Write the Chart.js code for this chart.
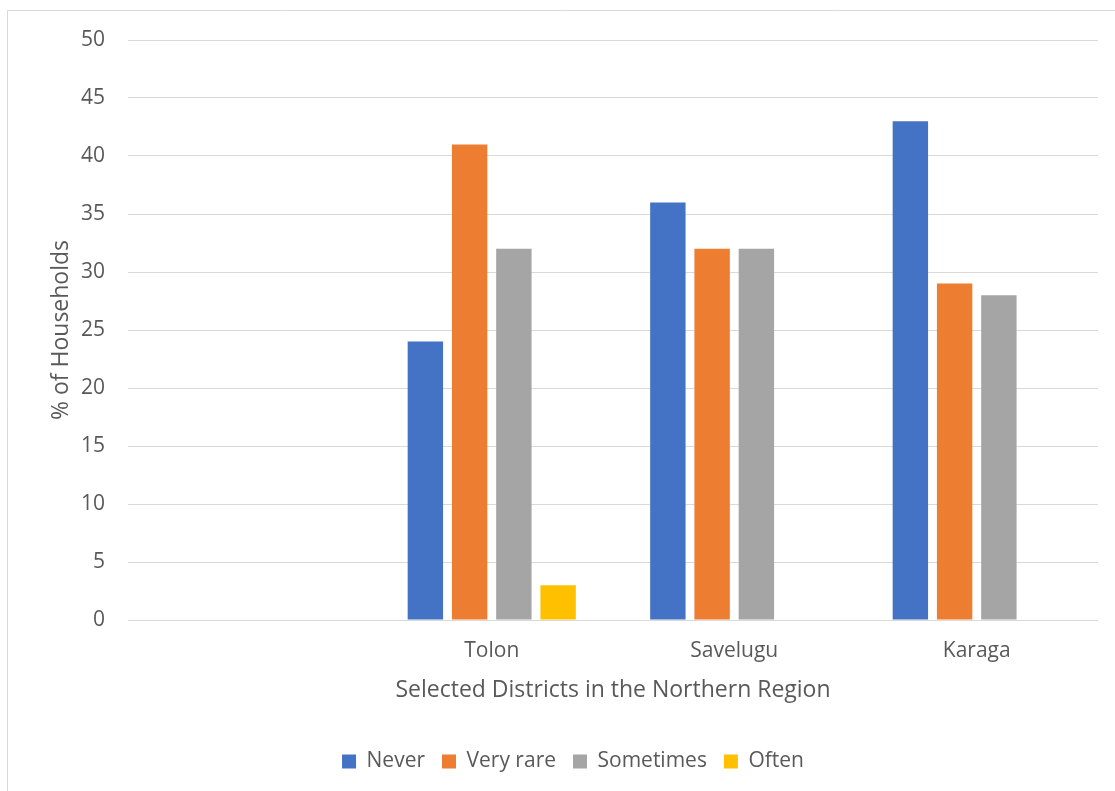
<!DOCTYPE html>
<html>
<head>
<meta charset="utf-8">
<script src="https://cdn.jsdelivr.net/npm/chart.js@4/dist/chart.umd.min.js"></script>
<style>
  html, body { margin: 0; padding: 0; background: #fff; }
  #wrap { position: relative; width: 1115px; height: 791px; }
</style>
</head>
<body>
<div id="wrap"><canvas id="c" width="1115" height="791"></canvas></div>
<script>
const categories = ['', 'Tolon', 'Savelugu', 'Karaga'];
const seriesNames = ['Never', 'Very rare', 'Sometimes', 'Often'];
const never = [null, 24, 36, 43];
const veryRare = [null, 41, 32, 29];
const sometimes = [null, 32, 32, 28];
const often = [null, 3, 0, 0];
const colors = ['#4472C4', '#ED7D31', '#A5A5A5', '#FFC000'];
const yTitle = '% of Households';
const xTitle = 'Selected Districts in the Northern Region';

const FONT = "'Open Sans', sans-serif";
const TXT = '#595959';

const borderPlugin = {
  id: 'outerBorder',
  afterLayout(chart) {
    if (chart.legend) {
      chart.legend.left += 24;
      chart.legend.right += 24;
    }
  },
  beforeDraw(chart) {
    const ctx = chart.ctx;
    ctx.save();
    ctx.strokeStyle = '#d9d9d9';
    ctx.lineWidth = 1;
    ctx.beginPath();
    ctx.moveTo(7.5, 800);
    ctx.lineTo(7.5, 10.5);
    ctx.lineTo(1120, 10.5);
    ctx.stroke();
    ctx.restore();
  }
};

const seriesData = [never, veryRare, sometimes, often];

new Chart(document.getElementById('c'), {
  type: 'bar',
  data: {
    labels: categories,
    datasets: seriesNames.map((n, i) => ({
      label: n,
      data: seriesData[i],
      backgroundColor: colors[i],
      borderWidth: 0,
      categoryPercentage: 0.73,
      barPercentage: 0.8
    }))
  },
  options: {
    responsive: false,
    animation: false,
    devicePixelRatio: 1,
    layout: { padding: { top: 40, left: 0, right: 17, bottom: 9 } },
    plugins: {
      legend: {
        position: 'bottom',
        labels: {
          color: TXT,
          font: { family: FONT, size: 21 },
          boxWidth: 14,
          boxHeight: 14,
          padding: 17
        }
      },
      tooltip: { enabled: false }
    },
    scales: {
      x: {
        grid: { display: false, drawTicks: false },
        border: { display: false },
        ticks: { color: TXT, font: { family: FONT, size: 21 }, padding: 18 },
        title: { display: true, text: xTitle, color: TXT, font: { family: FONT, size: 23 }, padding: { top: 0, bottom: 30 } },
        afterFit(s) { s.height = 114; }
      },
      y: {
        min: 0, max: 50,
        ticks: { stepSize: 5, color: TXT, font: { family: FONT, size: 21 }, padding: 23 },
        grid: { color: '#d9d9d9', lineWidth: 1, drawTicks: false },
        border: { display: false },
        title: { display: true, text: yTitle, color: TXT, font: { family: FONT, size: 23 }, padding: { top: 48, bottom: 0 } },
        afterFit(s) { s.width = 128; }
      }
    }
  },
  plugins: [borderPlugin]
});
</script>
</body>
</html>
